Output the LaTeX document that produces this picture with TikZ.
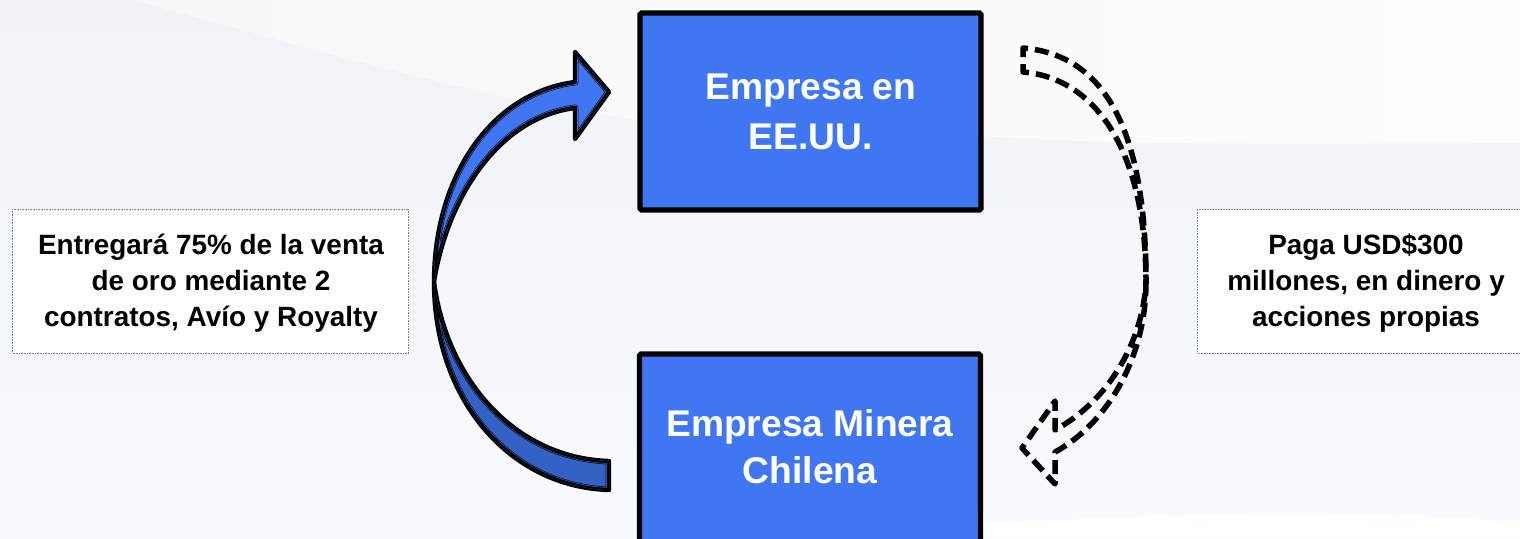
\documentclass[tikz,border=0pt]{standalone}
\usepackage{fontspec}
\setmainfont{Liberation Sans}
\definecolor{bluefill}{HTML}{4076F2}
\definecolor{bluedark}{HTML}{3361C4}
\definecolor{bgtopl}{HTML}{F8F8F8}
\definecolor{bgtopr}{HTML}{FDFDFD}
\definecolor{bgmid}{HTML}{EFF2F6}
\definecolor{bgbot}{HTML}{F8FBFF}
\tikzset{
 mainbox/.style={draw=black,line width=5.2pt,fill=bluefill,rounded corners=1.5pt,minimum width=341pt,inner sep=0pt},
 boxtext/.style={text=white,align=center,font=\fontsize{37.2}{47}\selectfont\bfseries,inner sep=0pt},
 sidebox/.style={draw=gray,densely dotted,line width=0.6pt,fill=white,inner sep=0pt},
 sidetext/.style={align=center,font=\fontsize{27.9}{36.3}\selectfont\bfseries,inner sep=0pt,text=black},
 dasharrow/.style={draw=black,line width=5.5pt,dash pattern=on 14pt off 7pt,line join=round}
}
\newcommand{\layeredshape}[2]{%
  \draw[black,line width=4.4pt,line join=round] #1;
  \fill[#2] #1;
  \begin{scope}
    \clip #1;
    \draw[black,line width=6.8pt,line join=round] #1;
    \draw[#2,line width=5.6pt,line join=round] #1;
    \draw[black,line width=4.4pt,line join=round] #1;
  \end{scope}
}
\begin{document}
\begin{tikzpicture}[x=1pt,y=-1pt]
\useasboundingbox (0,0) rectangle (1520,538);
% background
\shade[top color=bgmid,bottom color=bgbot] (0,0) rectangle (1520,538);
\shade[left color=bgtopl,right color=bgtopr] (133,0) .. controls (280,40) and (480,100) .. (640,120) .. controls (720,132) and (880,132) .. (980,136) .. controls (1120,146) and (1320,144) .. (1520,143) -- (1520,0) -- cycle;
\fill[white] (830,538) .. controls (1000,518) and (1300,506) .. (1520,522) -- (1520,538) -- cycle;
% boxes
\node[mainbox,minimum height=197pt] (usa) at (810.5,111.5) {};
\node[boxtext] (usatext) at (811,112) {Empresa en\\[3pt]EE.UU.};
\node[mainbox,minimum height=190pt] (chile) at (810,449) {};
\node[boxtext] (chiletext) at (810,446.5) {Empresa Minera\\Chilena};
\node[sidebox,minimum width=396pt,minimum height=144pt] (left) at (210.5,281) {};
\node[sidetext] (lefttext) at (211,283) {Entregará 75\% de la venta\\de oro mediante 2\\contratos, Avío y Royalty};
\node[sidebox,minimum width=341pt,minimum height=144pt,anchor=west] (right) at (1197,281) {};
\node[sidetext] (righttext) at (1366,283) {Paga USD\$300\\millones, en dinero y\\acciones propias};
% solid curved arrow
\layeredshape{(434,282) .. controls (434,400) and (510,487) .. (609,490) -- (609,461) .. controls (515,458) and (447,380) .. (434,282) -- cycle}{bluedark}
\layeredshape{(434,282) .. controls (434,178) and (490,93) .. (575,82) -- (575,52) -- (609,92) -- (575,139) -- (575,108) .. controls (497,118) and (447,200) .. (434,282) -- cycle}{bluefill}
% dashed curved arrow
\draw[dasharrow] (1023,57) -- (1023,48) .. controls (1105,55) and (1146,130) .. (1146,282);
\draw[dasharrow] (1023,64) -- (1023,72) .. controls (1095,78) and (1146,150) .. (1146,282);
\draw[dasharrow] (1146,282) .. controls (1146,360) and (1105,425) .. (1055,452) -- (1055,484) -- (1022,448) -- (1055,401) -- (1055,430) .. controls (1110,400) and (1143,340) .. (1146,282);
\end{tikzpicture}
\end{document}
